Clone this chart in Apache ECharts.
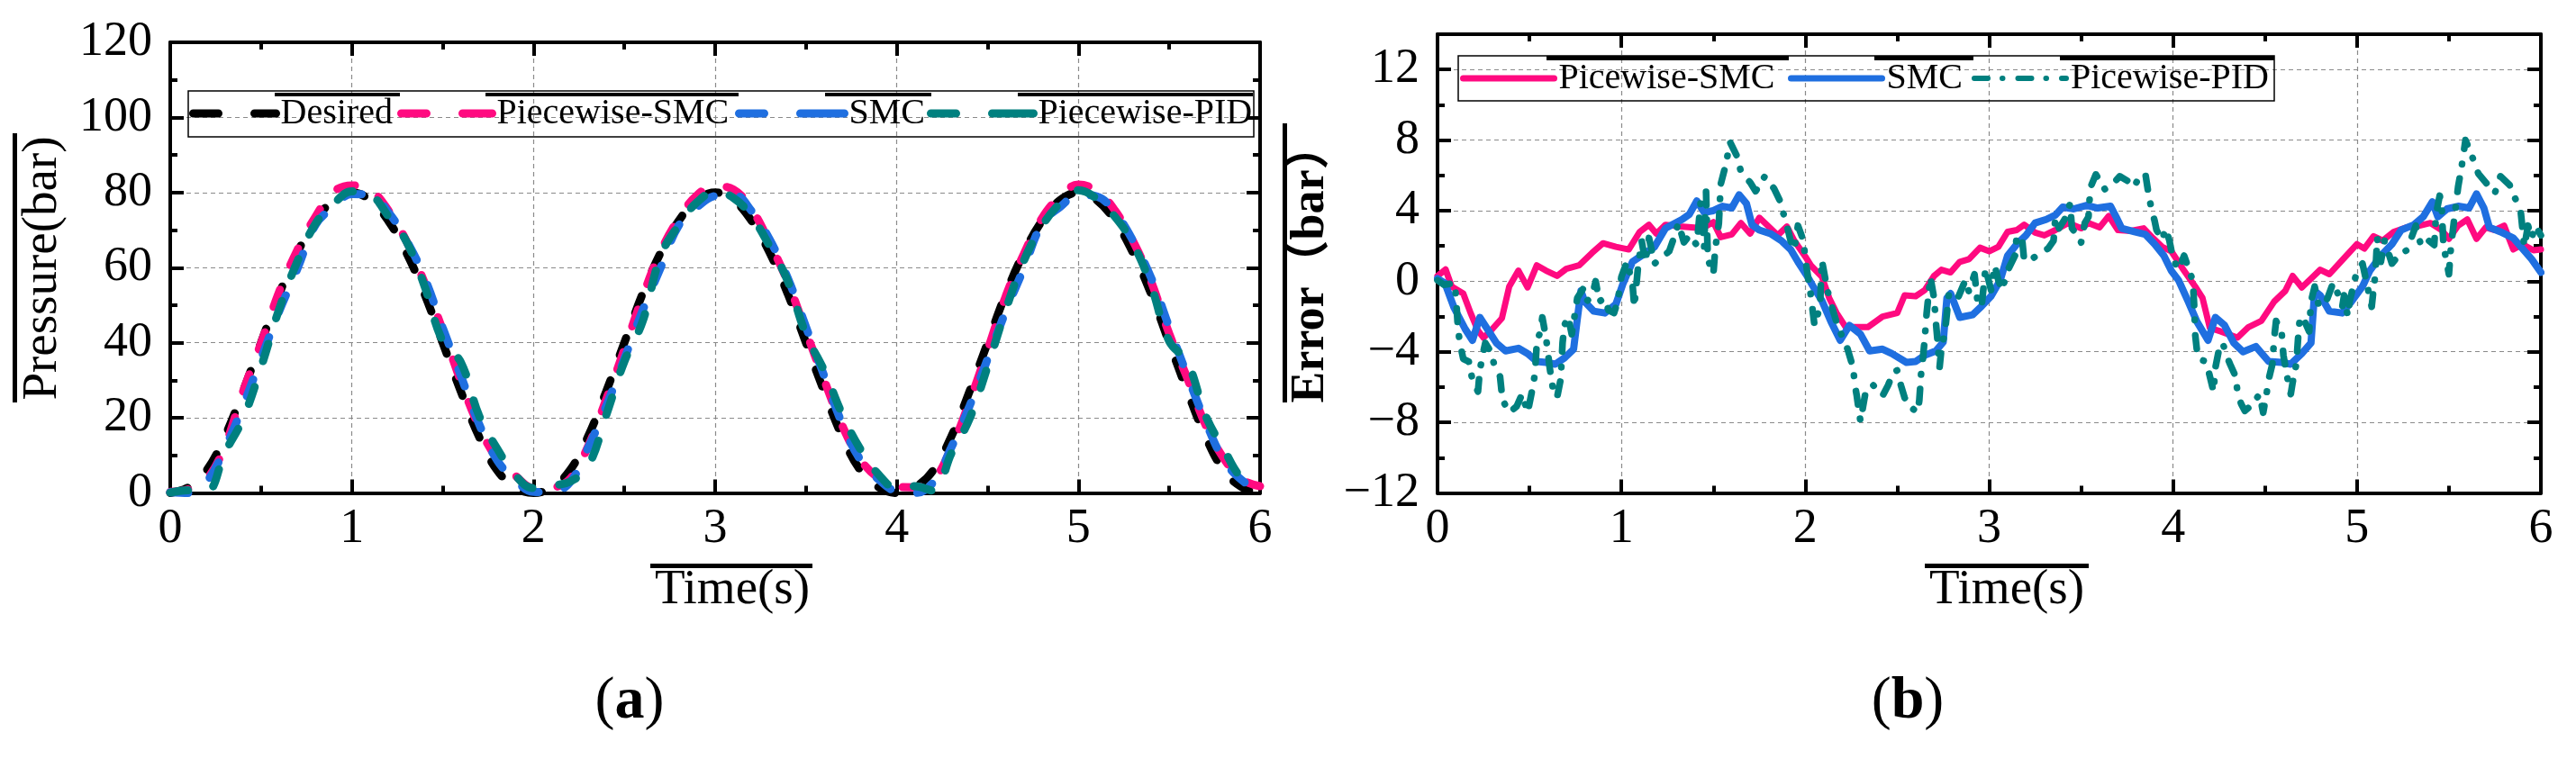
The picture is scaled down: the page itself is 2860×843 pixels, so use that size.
<!DOCTYPE html>
<html>
<head>
<meta charset="utf-8">
<script src="https://cdn.jsdelivr.net/npm/echarts@6/dist/echarts.min.js"></script>
<style>
html, body { margin: 0; padding: 0; background: #fff; }
#main { width: 2860px; height: 843px; }
</style>
</head>
<body>
<div id="main"></div>
<script>
// (a) pressure tracking, sampled every 0.1 s
var timeA = [];
for (var i = 0; i <= 60; i++) {
	timeA.push(+(i * 0.1).toFixed(1));
}
var desiredA = [0,1.5,6,15,27,40,53,64,72.5,78,80,78,72.5,64,53,40,27,15,6,1.5,
	0,1.5,6,15,27,40,53,64,72.5,78,80,78,72.5,64,53,40,27,15,6,1.5,
	0,1.5,6,15,27,40,53,64,72.5,78,80,78,72.5,64,53,40,27,15,6,1.5,
	0];
var pieceSmcA = [0.3,1.0,3.7,12.4,26.9,39.9,53.6,64.7,73.6,80.2,81.9,80.8,75.3,67.1,56.0,43.4,29.7,17.7,9.1,4.6,
	1.4,1.5,3.7,12.4,24.9,38.2,52.2,64.3,73.1,79.3,81.7,80.8,75.6,66.6,56.1,43.0,30.1,17.9,8.9,3.9,
	1.6,1.5,3.4,12.0,24.3,38.1,52.4,63.7,73.2,79.0,82.1,80.5,75.3,67.1,56.3,42.4,30.5,18.1,9.2,3.6,
	1.8];
var smcA = [0.2,0,3.0,11.8,23.1,35.8,48.4,59.7,71.4,76.2,79.6,79.4,74.8,67.3,57.3,44.0,31.2,18.4,8.7,3.4,
	0.3,0.2,2.8,12.0,23.1,35.7,48.5,60.0,71.3,76.1,79.1,79.5,75.1,67.5,57.2,44.2,31.2,18.4,8.8,3.6,
	0.4,0,2.8,12.1,23.1,35.7,48.4,59.9,71.7,76.2,79.4,79.0,74.7,67.2,57.3,44.1,31.2,19.0,8.8,3.4,
	0.5];
var piecePidA = [0.1,0.7,0.5,10.7,19.7,33.5,49.0,61.7,71.7,77.0,80.3,79.5,73.7,67.0,55.1,40.4,34.8,20.6,11.8,4.7,
	1.3,2.0,3.0,7.1,20.7,35.0,45.6,63.1,71.4,77.4,80.2,78.6,73.7,65.7,56.4,42.2,32.6,20.9,11.6,4.9,
	1.3,1.8,0.6,10.5,19.7,33.7,48.8,61.9,71.1,77.2,80.6,78.4,73.6,66.5,55.2,40.4,34.8,20.6,11.7,4.0,
	2.6];

// (b) tracking error
var pinkT = [0,0.044,0.077,0.14,0.18,0.22,0.25,0.29,0.35,0.39,0.44,0.49,0.54,0.59,0.65,0.70,0.77,0.84,0.90,0.97,
	1.04,1.10,1.15,1.19,1.24,1.32,1.44,1.50,1.54,1.60,1.65,1.70,1.75,1.80,1.85,1.90,1.94,2.00,2.03,2.09,
	2.13,2.17,2.22,2.28,2.34,2.42,2.50,2.54,2.60,2.65,2.70,2.74,2.79,2.84,2.89,2.95,3.00,3.05,3.10,3.15,
	3.19,3.25,3.30,3.36,3.43,3.50,3.54,3.60,3.65,3.70,3.77,3.84,3.89,3.94,3.99,4.05,4.12,4.16,4.20,4.26,
	4.35,4.41,4.48,4.55,4.61,4.65,4.70,4.75,4.80,4.85,4.92,5.00,5.04,5.09,5.14,5.20,5.27,5.34,5.40,5.46,
	5.50,5.55,5.60,5.65,5.70,5.75,5.80,5.85,5.90,5.96,6.00];
var pinkErr = [0.3,0.67,-0.3,-0.7,-1.8,-2.8,-3.2,-2.8,-2.1,-0.3,0.6,-0.35,0.9,0.6,0.3,0.7,0.9,1.6,2.15,1.95,
	1.8,2.8,3.2,2.7,3.2,3.1,3.0,3.35,2.5,2.65,3.3,2.7,3.6,3.1,2.6,3.1,2.3,1.4,0.9,0.25,
	-0.95,-1.8,-2.6,-2.6,-2.6,-2.0,-1.8,-0.8,-0.85,-0.5,0.3,0.65,0.5,1.1,1.25,1.9,1.7,1.95,2.8,2.9,
	3.2,2.75,2.6,2.9,3.3,3.0,3.3,3.05,3.7,2.9,2.85,3.0,2.45,1.95,1.7,0.75,-0.3,-0.95,-2.65,-2.85,
	-3.2,-2.6,-2.25,-1.15,-0.55,0.3,-0.35,0.15,0.65,0.4,1.2,2.1,1.85,2.55,2.3,2.8,3.05,3.15,3.3,2.9,
	2.4,3.15,3.5,2.4,3.05,2.9,3.15,1.8,2.1,1.75,1.8];

var blueT = [0,0.04,0.09,0.15,0.19,0.23,0.28,0.32,0.37,0.44,0.49,0.54,0.59,0.64,0.69,0.74,0.76,0.78,0.80,0.85,
	0.91,0.97,1.01,1.06,1.11,1.18,1.24,1.33,1.37,1.41,1.45,1.50,1.55,1.60,1.64,1.68,1.71,1.75,1.81,1.87,
	1.92,1.96,2.01,2.04,2.09,2.14,2.19,2.24,2.30,2.35,2.42,2.47,2.55,2.60,2.65,2.71,2.75,2.77,2.79,2.84,
	2.91,2.96,3.01,3.06,3.10,3.15,3.20,3.25,3.31,3.36,3.40,3.46,3.53,3.59,3.66,3.69,3.72,3.79,3.85,3.90,
	3.95,3.99,4.03,4.08,4.13,4.19,4.23,4.28,4.33,4.38,4.45,4.52,4.59,4.64,4.70,4.75,4.77,4.80,4.85,4.92,
	4.97,5.03,5.07,5.13,5.19,5.24,5.31,5.36,5.41,5.44,5.49,5.55,5.61,5.65,5.69,5.72,5.78,5.85,5.90,5.95,
	6.00];
var blueErr = [0.15,-0.1,-1.5,-2.7,-3.35,-2.05,-2.85,-3.5,-3.95,-3.8,-4.1,-4.55,-4.6,-4.7,-4.35,-3.85,-2.15,-0.55,-1.15,-1.7,
	-1.8,-1.3,-0.1,1.1,1.45,1.95,3.0,3.5,3.8,4.55,3.9,4.0,4.25,4.15,4.9,4.4,3.2,2.9,2.7,2.3,
	1.8,1.1,0.3,-0.25,-1.1,-2.3,-3.35,-2.5,-3.0,-3.95,-3.85,-4.1,-4.6,-4.55,-4.2,-3.95,-3.45,-0.95,-0.7,-2.05,
	-1.9,-1.4,-0.85,0.05,1.45,2.1,2.6,3.3,3.5,3.75,4.2,4.1,4.3,4.15,4.25,3.65,3.0,2.8,2.65,2.1,
	1.45,0.6,0.05,-1.1,-2.3,-3.35,-2.05,-2.5,-3.5,-4.0,-3.7,-4.55,-4.6,-4.7,-4.1,-3.5,-0.55,-0.8,-1.7,-1.8,
	-1.15,-0.3,0.6,1.45,2.1,2.9,3.2,3.65,4.5,3.65,4.1,4.25,4.15,4.95,4.15,3.05,2.8,2.45,1.85,1.25,
	0.5];

var tealT = [0,0.036,0.09,0.10,0.11,0.12,0.14,0.17,0.19,0.22,0.23,0.25,0.26,0.29,0.31,0.34,0.35,0.36,0.39,0.43,
	0.46,0.49,0.52,0.53,0.54,0.56,0.57,0.59,0.60,0.61,0.63,0.65,0.67,0.68,0.69,0.71,0.73,0.75,0.76,0.79,
	0.81,0.84,0.86,0.88,0.91,0.93,0.96,0.98,1.00,1.03,1.06,1.07,1.09,1.11,1.13,1.15,1.18,1.21,1.26,1.28,
	1.31,1.34,1.37,1.41,1.43,1.45,1.46,1.47,1.50,1.51,1.53,1.54,1.57,1.59,1.63,1.65,1.70,1.73,1.78,1.83,
	1.86,1.90,1.92,1.94,1.96,1.99,2.00,2.03,2.05,2.08,2.09,2.12,2.15,2.18,2.21,2.23,2.26,2.27,2.28,2.29,
	2.30,2.33,2.37,2.42,2.45,2.48,2.50,2.52,2.54,2.57,2.61,2.62,2.63,2.64,2.65,2.66,2.68,2.70,2.71,2.72,
	2.73,2.74,2.76,2.78,2.81,2.83,2.87,2.89,2.92,2.94,2.96,2.98,3.01,3.03,3.05,3.07,3.10,3.14,3.15,3.18,
	3.19,3.23,3.28,3.32,3.35,3.36,3.38,3.41,3.44,3.45,3.48,3.50,3.52,3.54,3.55,3.58,3.61,3.63,3.68,3.71,
	3.75,3.79,3.82,3.85,3.87,3.88,3.90,3.91,3.94,3.96,3.98,4.00,4.03,4.06,4.08,4.10,4.11,4.115,4.12,4.13,
	4.15,4.18,4.20,4.22,4.23,4.25,4.27,4.29,4.31,4.34,4.35,4.37,4.39,4.43,4.47,4.49,4.51,4.52,4.54,4.55,
	4.56,4.59,4.60,4.62,4.64,4.65,4.67,4.68,4.69,4.71,4.74,4.75,4.77,4.79,4.82,4.84,4.87,4.90,4.92,4.93,
	4.95,4.96,5.00,5.03,5.06,5.08,5.09,5.10,5.11,5.13,5.15,5.19,5.23,5.27,5.29,5.32,5.35,5.39,5.42,5.43,
	5.45,5.46,5.47,5.50,5.51,5.53,5.55,5.57,5.59,5.62,5.66,5.70,5.75,5.78,5.83,5.86,5.89,5.91,5.93,5.95,
	5.97,6.00];
var tealErr = [0.05,-0.2,-0.1,-0.8,-2.5,-3.4,-4.4,-4.55,-5.6,-6.25,-5.05,-3.95,-3.5,-4.0,-4.8,-5.4,-6.4,-6.85,-7.45,-7.1,
	-6.4,-7.45,-5.9,-5.2,-3.5,-2.8,-2.05,-3.2,-4.0,-4.9,-6.25,-6.6,-5.55,-3.5,-2.5,-2.0,-3.0,-1.65,-0.95,-0.45,
	-1.15,-0.85,0.0,-1.15,-0.95,-1.65,-1.8,-1.15,0.25,1.1,-0.1,-1.45,0.75,2.3,1.1,2.45,1.0,1.25,1.7,2.3,
	3.3,2.2,2.6,2.05,4.4,1.95,5.2,1.25,0.4,1.8,3.3,5.5,6.7,7.9,7.05,6.2,5.6,5.1,5.95,5.25,
	4.6,3.15,2.3,1.8,3.15,2.3,1.25,-0.8,-2.5,-1.45,1.2,-0.5,-1.65,-2.65,-3.35,-3.85,-4.9,-5.9,-6.5,-7.25,
	-7.95,-6.15,-5.9,-6.5,-5.9,-5.15,-5.05,-5.9,-6.6,-7.1,-7.45,-6.75,-5.2,-4.35,-3.2,-1.8,0.25,-0.95,-2.3,-3.5,
	-4.9,-3.85,-2.85,-0.8,-1.15,-0.95,0.05,-0.6,0.4,-1.45,-1.3,0.75,-0.5,0.9,0.05,-0.5,0.6,1.45,2.6,2.3,
	1.2,1.25,1.6,1.85,2.3,3.65,3.0,3.5,4.4,3.0,2.6,2.2,3.3,3.65,5.3,6.05,5.55,5.2,5.6,5.95,
	5.7,5.35,6.05,6.05,4.7,4.25,3.4,2.9,2.35,3.0,2.3,1.25,0.65,1.45,0.85,0.25,-0.45,-1.45,-3.0,-3.95,
	-4.45,-4.55,-5.4,-6.25,-4.9,-3.85,-3.5,-4.2,-4.7,-5.4,-6.25,-6.95,-7.35,-7.0,-6.4,-7.45,-6.25,-5.55,-4.7,-3.2,
	-2.25,-2.85,-4.2,-5.4,-6.4,-5.75,-4.7,-3.2,-2.0,-2.15,-2.85,-1.15,-0.3,-1.3,-1.45,-0.95,-0.1,-0.8,-1.45,-0.8,
	-2.0,-1.15,0.6,1.0,-0.45,-1.45,-0.45,0.4,2.45,1.1,2.3,1.0,1.5,1.75,2.3,3.15,1.95,2.3,2.05,3.8,
	4.85,4.35,2.05,0.4,1.8,3.65,5.35,6.55,8.0,7.25,6.1,5.6,5.0,5.95,5.45,4.7,4.0,1.95,3.15,2.45,
	3.15,2.6];

function zip(xs, ys) {
	var out = [];
	for (var k = 0; k < xs.length; k++) out.push([xs[k], ys[k]]);
	return out;
}

var C_BLACK = '#000000', C_PINK = '#FF0A80', C_BLUE = '#1F6FE0', C_TEAL = '#00807F';
var serif = 'Liberation Serif';
var dashA = [20, 30];
var dashB = [15, 16, 0.5, 17];

function minusSign(v) {
	return String(v).replace('-', '\u2212');
}

function xAx(grid, pos) {
	return {
		type: 'value', gridIndex: grid, position: pos, min: 0, max: 6, interval: 1,
		axisLine: { onZero: false, lineStyle: { color: '#000', width: 4 } },
		axisTick: { inside: true, length: 15, lineStyle: { color: '#000', width: 4 } },
		minorTick: { show: true, splitNumber: 2, length: 8, lineStyle: { color: '#000', width: 4 } },
		splitLine: { show: pos === 'bottom', lineStyle: { color: '#8a8a8a', width: 1.2, type: [5, 4] } },
		axisLabel: { show: pos === 'bottom', fontSize: 54, fontFamily: serif, color: '#000', margin: 13 }
	};
}
function yAx(grid, pos, min, max, step) {
	return {
		type: 'value', gridIndex: grid, position: pos, min: min, max: max, interval: step,
		axisLine: { onZero: false, lineStyle: { color: '#000', width: 4 } },
		axisTick: { inside: true, length: 15, lineStyle: { color: '#000', width: 4 } },
		minorTick: { show: true, splitNumber: 2, length: 8, lineStyle: { color: '#000', width: 4 } },
		splitLine: { show: pos === 'left', lineStyle: { color: '#8a8a8a', width: 1.2, type: [5, 4] } },
		axisLabel: { show: pos === 'left', showMaxLabel: max === 120, formatter: minusSign,
			fontSize: 54, fontFamily: serif, color: '#000', margin: 20 }
	};
}

function lineA(name, color, data) {
	return {
		name: name, type: 'line', xAxisIndex: 0, yAxisIndex: 0, smooth: 0.4,
		symbol: 'none', data: zip(timeA, data),
		lineStyle: { color: color, width: 9, type: dashA, cap: 'round' },
		itemStyle: { color: color }
	};
}

// one legend per entry so each label sits where the figure has it
function legendItem(name, left, top, iconW, lineW, dash, label) {
	return {
		data: [name], left: left, top: top, padding: 0, itemWidth: iconW, itemHeight: 12,
		formatter: function () { return label; },
		itemStyle: { color: 'rgba(0,0,0,0)', borderWidth: 0 },
		lineStyle: { width: lineW, type: dash, cap: 'round' },
		textStyle: { fontSize: 40, fontFamily: serif, color: '#000' }
	};
}
var legendDashA = [28, 40, 80, 10];

var overlines = [
	[14, 148, 5, 299],       // Pressure(bar)
	[722, 626, 180, 5],      // Time(s) a
	[305, 103, 139, 4],      // legend (a)
	[539, 103, 281, 4],
	[916, 103, 118, 4],
	[1130, 103, 261, 4],
	[1424, 137, 5, 310],     // Error（bar）
	[2137, 626, 182, 5],     // Time(s) b
	[1717, 62, 269, 5],      // legend (b)
	[2081, 62, 110, 5],
	[2287, 62, 238, 5]
];
var graphics = [
	{ type: 'rect', shape: { x: 209, y: 101, width: 1183, height: 51 }, style: { fill: 'none', stroke: '#000', lineWidth: 1.5 }, z: 90 },
	{ type: 'rect', shape: { x: 1619, y: 62, width: 906, height: 50 }, style: { fill: 'none', stroke: '#000', lineWidth: 1.5 }, z: 90 }
];
overlines.forEach(function (r) {
	graphics.push({ type: 'rect', shape: { x: r[0], y: r[1], width: r[2], height: r[3] }, style: { fill: '#000' }, z: 100 });
});
graphics.push(
	{ type: 'text', x: 48, y: 298, rotation: Math.PI / 2,
		style: { text: 'Pressure(bar)', font: '55px "Liberation Serif"', fill: '#000', align: 'center', verticalAlign: 'middle' } },
	{ type: 'text', x: 813, y: 656,
		style: { text: 'Time(s)', font: '55px "Liberation Serif"', fill: '#000', align: 'center', verticalAlign: 'middle' } },
	{ type: 'text', x: 1456, y: 292, rotation: Math.PI / 2,
		style: { text: 'Error（bar）', font: 'bold 52px "Liberation Serif", "Noto Sans CJK SC"', fill: '#000', align: 'center', verticalAlign: 'middle' } },
	{ type: 'text', x: 2228, y: 656,
		style: { text: 'Time(s)', font: '55px "Liberation Serif"', fill: '#000', align: 'center', verticalAlign: 'middle' } },
	{ type: 'text', x: 699, y: 780,
		style: { text: '{p|(}{b|a}{p|)}', align: 'center', verticalAlign: 'middle',
			rich: { p: { fontSize: 66, fontFamily: serif, color: '#000' },
				b: { fontSize: 66, fontFamily: serif, fontWeight: 'bold', color: '#000' } } } },
	{ type: 'text', x: 2118, y: 780,
		style: { text: '{p|(}{b|b}{p|)}', align: 'center', verticalAlign: 'middle',
			rich: { p: { fontSize: 66, fontFamily: serif, color: '#000' },
				b: { fontSize: 66, fontFamily: serif, fontWeight: 'bold', color: '#000' } } } }
);

var myChart = echarts.init(document.getElementById('main'), null, { renderer: 'canvas' });
var option = {
	backgroundColor: '#fff',
	animation: false,
	grid: [
		{ left: 189, top: 47, width: 1210, height: 500.5 },
		{ left: 1596, top: 38, width: 1225, height: 509.5 }
	],
	xAxis: [xAx(0, 'bottom'), xAx(0, 'top'), xAx(1, 'bottom'), xAx(1, 'top')],
	yAxis: [yAx(0, 'left', 0, 120, 20), yAx(0, 'right', 0, 120, 20),
		yAx(1, 'left', -12, 14, 4), yAx(1, 'right', -12, 14, 4)],
	legend: [
		legendItem('Desired', 210, 106, 92, 9, legendDashA, 'Desired'),
		legendItem('Piecewise-SMC', 441, 106, 101, 9, legendDashA, 'Piecewise-SMC'),
		legendItem('SMC', 816, 106, 117, 9, legendDashA, 'SMC'),
		legendItem('Piecewise-PID', 1029, 106, 114, 9, legendDashA, 'Piecewise-PID'),
		legendItem('Picewise-SMC', 1621, 67, 101, 7, 'solid', 'Picewise-SMC'),
		legendItem('SMC ', 1985, 67, 101, 7, 'solid', 'SMC'),
		legendItem('Picewise-PID', 2189, 67, 102, 6, dashB, 'Picewise-PID')
	],
	series: [
		lineA('Desired', C_BLACK, desiredA),
		lineA('Piecewise-SMC', C_PINK, pieceSmcA),
		lineA('SMC', C_BLUE, smcA),
		lineA('Piecewise-PID', C_TEAL, piecePidA),
		{
			name: 'Picewise-SMC', type: 'line', xAxisIndex: 2, yAxisIndex: 2, symbol: 'none',
			data: zip(pinkT, pinkErr),
			lineStyle: { color: C_PINK, width: 7, cap: 'round', join: 'round' }, itemStyle: { color: C_PINK }
		},
		{
			name: 'SMC ', type: 'line', xAxisIndex: 2, yAxisIndex: 2, symbol: 'none',
			data: zip(blueT, blueErr),
			lineStyle: { color: C_BLUE, width: 8, cap: 'round', join: 'round' }, itemStyle: { color: C_BLUE }
		},
		{
			name: 'Picewise-PID', type: 'line', xAxisIndex: 2, yAxisIndex: 2, symbol: 'none',
			data: zip(tealT, tealErr),
			lineStyle: { color: C_TEAL, width: 7.5, type: dashB, cap: 'round', join: 'round' },
			itemStyle: { color: C_TEAL }
		}
	],
	graphic: graphics
};
myChart.setOption(option);
</script>
</body>
</html>
